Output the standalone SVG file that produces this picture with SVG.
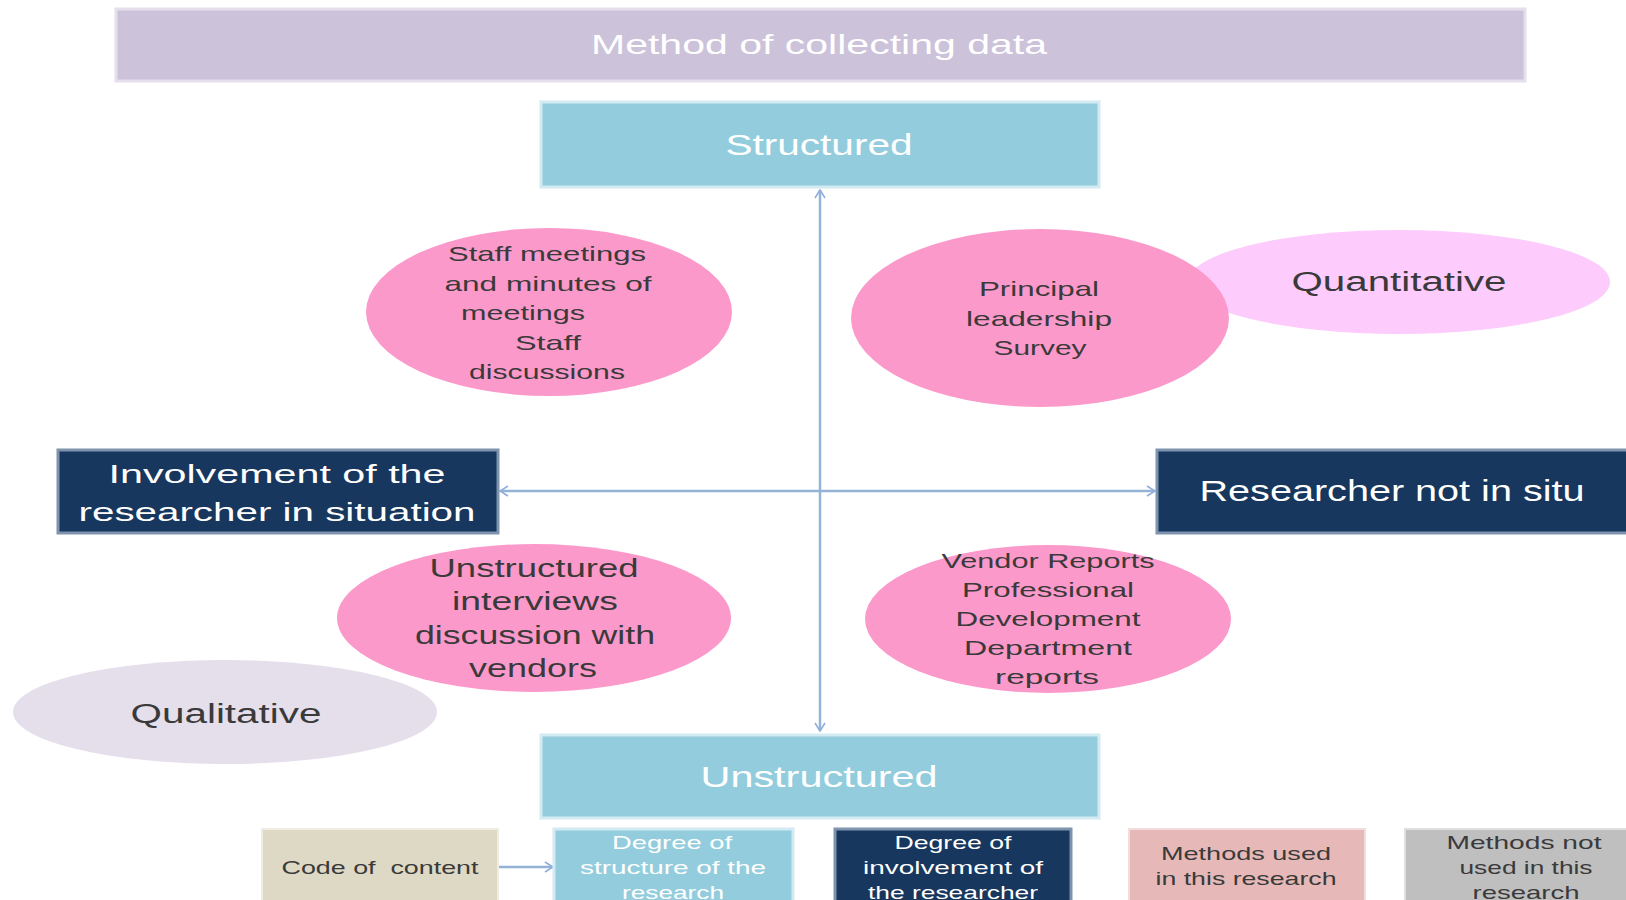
<svg xmlns="http://www.w3.org/2000/svg" width="1626" height="900" viewBox="0 0 1626 900">
  <defs>
    <marker id="chev" viewBox="0 0 10 12" refX="9" refY="6" markerWidth="10" markerHeight="12" markerUnits="userSpaceOnUse" orient="auto-start-reverse">
      <path d="M1,1 L9,6 L1,11" fill="none" stroke="#8FAEDB" stroke-width="1.6"/>
    </marker>
  </defs>
  <style>
    text { font-family: "Liberation Sans", Arial, sans-serif; text-anchor: middle; }
    .light { fill: #ffffff; }
    .dark { fill: #3a3a3a; }
    .title { fill: #CCC2DA; stroke: #E4DFEB; stroke-width: 3; }
    .sky { fill: #93CDDD; stroke: #D2EAF1; stroke-width: 3; }
    .navy { fill: #17375E; stroke: #7E93AD; stroke-width: 3; }
    .pink { fill: #FC99CB; }
    .axis { fill: none; stroke: #95B3D7; stroke-width: 2.5; }
  </style>
  <rect width="1626" height="900" fill="#ffffff"/>

  <g id="title">
    <rect class="title" x="116" y="9" width="1409" height="72"/>
    <text class="light" x="819" y="54" font-size="28" textLength="456" lengthAdjust="spacingAndGlyphs">Method of collecting data</text>
  </g>

  <g id="quantitative">
    <ellipse cx="1399" cy="282" rx="211" ry="52" fill="#FDCBFC"/>
    <text class="dark" x="1399" y="291" font-size="27" textLength="215" lengthAdjust="spacingAndGlyphs">Quantitative</text>
  </g>

  <g id="qualitative">
    <ellipse cx="225" cy="712" rx="212" ry="52" fill="#E5DFEC"/>
    <text class="dark" x="226" y="723" font-size="27" textLength="191" lengthAdjust="spacingAndGlyphs">Qualitative</text>
  </g>

  <g id="structured">
    <rect class="sky" x="541" y="102" width="558" height="85"/>
    <text class="light" x="819" y="155" font-size="30" textLength="187" lengthAdjust="spacingAndGlyphs">Structured</text>
  </g>

  <g id="unstructured">
    <rect class="sky" x="541" y="735" width="558" height="83"/>
    <text class="light" x="819" y="787" font-size="30" textLength="237" lengthAdjust="spacingAndGlyphs">Unstructured</text>
  </g>

  <g id="connectors">
    <line class="axis" x1="820" y1="190" x2="820" y2="731" marker-start="url(#chev)" marker-end="url(#chev)"/>
    <line class="axis" x1="500" y1="491" x2="1155" y2="491" stroke-width="3" marker-start="url(#chev)" marker-end="url(#chev)"/>
    <line class="axis" x1="499" y1="867" x2="553" y2="867" stroke-width="3" marker-end="url(#chev)"/>
  </g>

  <g id="researcher-in-situation">
    <rect class="navy" x="58" y="450" width="440" height="83"/>
    <text class="light" x="277" y="483" font-size="26" textLength="337" lengthAdjust="spacingAndGlyphs">Involvement of the</text>
    <text class="light" x="277" y="521" font-size="26" textLength="397" lengthAdjust="spacingAndGlyphs">researcher in situation</text>
  </g>

  <g id="researcher-not-in-situ">
    <rect class="navy" x="1157" y="450" width="475" height="83"/>
    <text class="light" x="1392" y="501" font-size="29" textLength="385" lengthAdjust="spacingAndGlyphs">Researcher not in situ</text>
  </g>

  <g id="staff-meetings">
    <ellipse class="pink" cx="549" cy="312" rx="183" ry="84"/>
    <text class="dark" x="547" y="261" font-size="21" textLength="198" lengthAdjust="spacingAndGlyphs">Staff meetings</text>
    <text class="dark" x="548" y="291" font-size="21" textLength="207" lengthAdjust="spacingAndGlyphs">and minutes of</text>
    <text class="dark" x="523" y="320" font-size="21" textLength="124" lengthAdjust="spacingAndGlyphs">meetings</text>
    <text class="dark" x="548" y="350" font-size="21" textLength="66" lengthAdjust="spacingAndGlyphs">Staff</text>
    <text class="dark" x="547" y="379" font-size="21" textLength="156" lengthAdjust="spacingAndGlyphs">discussions</text>
  </g>

  <g id="principal-survey">
    <ellipse class="pink" cx="1040" cy="318" rx="189" ry="89"/>
    <text class="dark" x="1039" y="296" font-size="21" textLength="120" lengthAdjust="spacingAndGlyphs">Principal</text>
    <text class="dark" x="1039" y="326" font-size="21" textLength="146" lengthAdjust="spacingAndGlyphs">leadership</text>
    <text class="dark" x="1040" y="355" font-size="21" textLength="93" lengthAdjust="spacingAndGlyphs">Survey</text>
  </g>

  <g id="unstructured-interviews">
    <ellipse class="pink" cx="534" cy="618" rx="197" ry="74"/>
    <text class="dark" x="534" y="577" font-size="25" textLength="209" lengthAdjust="spacingAndGlyphs">Unstructured</text>
    <text class="dark" x="535" y="610" font-size="25" textLength="166" lengthAdjust="spacingAndGlyphs">interviews</text>
    <text class="dark" x="535" y="644" font-size="25" textLength="240" lengthAdjust="spacingAndGlyphs">discussion with</text>
    <text class="dark" x="533" y="677" font-size="25" textLength="128" lengthAdjust="spacingAndGlyphs">vendors</text>
  </g>

  <g id="vendor-reports">
    <ellipse class="pink" cx="1048" cy="619" rx="183" ry="74"/>
    <text class="dark" x="1048" y="568" font-size="21" textLength="213" lengthAdjust="spacingAndGlyphs">Vendor Reports</text>
    <text class="dark" x="1048" y="597" font-size="21" textLength="172" lengthAdjust="spacingAndGlyphs">Professional</text>
    <text class="dark" x="1048" y="626" font-size="21" textLength="185" lengthAdjust="spacingAndGlyphs">Development</text>
    <text class="dark" x="1048" y="655" font-size="21" textLength="168" lengthAdjust="spacingAndGlyphs">Department</text>
    <text class="dark" x="1047" y="684" font-size="21" textLength="104" lengthAdjust="spacingAndGlyphs">reports</text>
  </g>

  <g id="legend-code">
    <rect x="262" y="829" width="236" height="80" fill="#DDD9C4" stroke="#EFEDE3" stroke-width="2"/>
    <text class="dark" x="380" y="874" font-size="19" textLength="197" lengthAdjust="spacingAndGlyphs" xml:space="preserve">Code of  content</text>
  </g>

  <g id="legend-structure">
    <rect class="sky" x="554" y="829" width="239" height="80" stroke-width="2"/>
    <text class="light" x="672" y="849" font-size="19" textLength="120" lengthAdjust="spacingAndGlyphs">Degree of</text>
    <text class="light" x="673" y="874" font-size="19" textLength="186" lengthAdjust="spacingAndGlyphs">structure of the</text>
    <text class="light" x="673" y="899" font-size="19" textLength="102" lengthAdjust="spacingAndGlyphs">research</text>
  </g>

  <g id="legend-involvement">
    <rect class="navy" x="835" y="829" width="236" height="80" stroke="#5F7898" stroke-width="2"/>
    <text class="light" x="953" y="849" font-size="19" textLength="117" lengthAdjust="spacingAndGlyphs">Degree of</text>
    <text class="light" x="953" y="874" font-size="19" textLength="180" lengthAdjust="spacingAndGlyphs">involvement of</text>
    <text class="light" x="953" y="899" font-size="19" textLength="170" lengthAdjust="spacingAndGlyphs">the researcher</text>
  </g>

  <g id="legend-used">
    <rect x="1129" y="829" width="236" height="80" fill="#E6B9B8" stroke="#F3DCDC" stroke-width="2"/>
    <text class="dark" x="1246" y="860" font-size="19" textLength="170" lengthAdjust="spacingAndGlyphs">Methods used</text>
    <text class="dark" x="1246" y="885" font-size="19" textLength="181" lengthAdjust="spacingAndGlyphs">in this research</text>
  </g>

  <g id="legend-not-used">
    <rect x="1405" y="829" width="236" height="80" fill="#BFBFBF" stroke="#DFDFDF" stroke-width="2"/>
    <text class="dark" x="1524" y="849" font-size="19" textLength="155" lengthAdjust="spacingAndGlyphs">Methods not</text>
    <text class="dark" x="1526" y="874" font-size="19" textLength="133" lengthAdjust="spacingAndGlyphs">used in this</text>
    <text class="dark" x="1526" y="899" font-size="19" textLength="107" lengthAdjust="spacingAndGlyphs">research</text>
  </g>
</svg>
